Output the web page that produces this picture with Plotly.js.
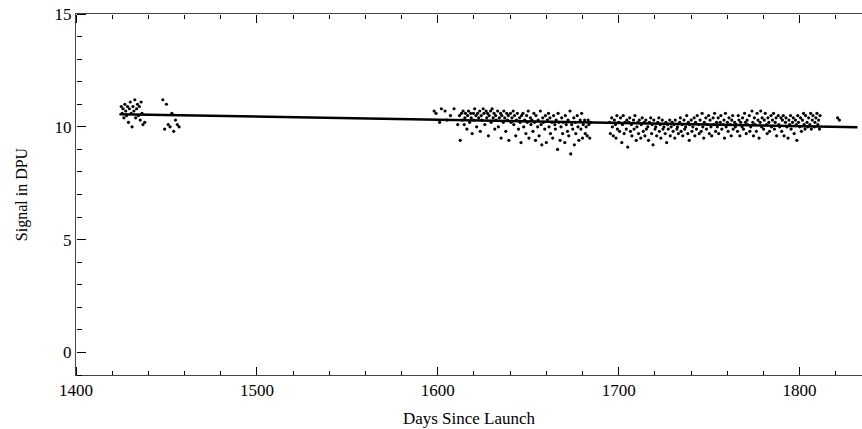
<!DOCTYPE html>
<html>
<head>
<meta charset="utf-8">
<script src="https://cdn.plot.ly/plotly-3.0.1.min.js"></script>
<style>html,body{margin:0;padding:0;background:#fff;}#chart{width:862px;height:429px;}</style>
</head>
<body>
<div id="chart"></div>
<script>
// ---- data ----
var earlyDays = [1425,1425.5,1426,1426.5,1427,1427.5,1428,1428.5,1429,1429.5,1430,1430.5,1431,1431.5,1432,1432.5,1433,1433.5,1434,1434.5,1435,1435.5,1436,1436.5,1437,1438,
  1448,1449,1450,1451,1452,1453,1454,1455,1456,1457];
var earlySignal = [10.9,10.6,10.8,10.4,11.0,10.7,10.5,10.9,10.2,10.8,11.1,10.6,10.0,10.9,10.7,11.2,10.4,10.8,11.0,10.5,10.9,10.3,11.1,10.6,10.1,10.2,
  11.2,9.9,11.0,10.1,10.0,10.6,9.8,10.3,10.1,10.0];

var midDays = [1598,1599,1601,1602,1604,1605,1607,1609,1611,
  1612,1612.4,1613.1,1613.5,1614,1614.6,1615,1615.3,1616.1,1616.5,1617,1617.6,1618.2,1618.5,1619,1619.7,1620,1620.4,1621.1,1621.5,
  1622,1622.6,1623.2,1623.5,1624,1624.3,1625.1,1625.5,1626,1626.7,1627.1,1627.5,1628,1628.4,1629.2,1629.5,1630,1630.6,1631.1,1631.5,
  1632,1632.3,1633.1,1633.5,1634,1634.7,1635,1635.4,1636.2,1636.5,1637,1637.6,1638.1,1638.5,1639,1639.3,1640.2,1640.5,1641,1641.7,
  1642,1642.4,1643.1,1643.5,1644,1644.6,1645.2,1645.5,1646,1646.3,1647.1,1647.5,1648,1648.7,1649.1,1649.5,1650,1650.4,1651.2,1651.5,
  1652,1652.6,1653.1,1653.5,1654,1654.3,1655.2,1655.5,1656,1656.7,1657.1,1657.5,1658,1658.4,1659.1,1659.5,1660,1660.6,1661.2,1661.5,
  1662,1662.3,1663.1,1663.5,1664,1664.7,1665,1665.4,1666.2,1666.5,1667,1667.6,1668.1,1668.5,1669,1669.3,1670.2,1670.5,1671,1671.7,
  1672,1672.4,1673.1,1673.5,1674,1674.6,1675.2,1675.5,1676,1676.3,1677.1,1677.5,1678,1678.7,1679.1,1679.5,1680,1680.4,1681.2,1681.5,
  1682,1682.6,1683.1,1683.5,1684,1684.4];
var midSignal = [10.7,10.6,10.2,10.8,10.7,10.3,10.5,10.8,10.1,
  10.5,9.4,10.6,10.3,10.7,10.1,10.4,10.6,9.9,10.5,10.7,10.2,10.6,10.4,9.7,10.6,10.3,10.8,10.5,10.0,
  10.6,10.4,10.7,9.8,10.5,10.3,10.8,10.6,10.1,10.7,10.4,10.6,9.6,10.5,10.7,10.2,10.8,10.4,10.6,9.9,
  10.5,10.3,10.7,10.0,10.4,10.6,9.5,10.5,10.2,10.7,10.4,9.8,10.6,10.3,10.5,9.4,10.6,10.2,10.4,10.7,
  10.1,10.5,9.6,10.3,10.6,9.9,10.4,10.2,9.3,10.5,10.6,10.0,10.3,9.7,10.5,10.2,10.7,9.5,10.4,10.1,
  10.3,9.8,10.6,10.2,9.4,10.5,10.0,10.3,9.6,10.7,10.1,9.2,10.4,10.2,9.9,10.5,9.3,10.3,10.6,10.0,
  10.4,9.7,10.2,9.5,10.5,10.1,9.9,10.3,9.0,10.6,10.2,9.4,10.0,10.4,9.7,10.2,9.3,10.5,10.1,9.8,
  10.3,9.6,10.7,8.8,10.1,9.9,10.4,9.2,10.2,9.7,10.5,10.0,9.4,10.3,9.9,10.6,9.5,10.1,10.3,9.7,
  10.0,9.6,10.3,10.1,9.5,10.2];

var lateDays = [
  1695,1695.4,1696.1,1696.5,1697,1697.6,1698.2,1698.5,1699,1699.3,1700.1,1700.5,1701,1701.7,1702.1,1702.5,1703,1703.4,1704.2,1704.5,
  1705,1705.6,1706.1,1706.5,1707,1707.3,1708.2,1708.5,1709,1709.7,1710.1,1710.5,1711,1711.4,1712.2,1712.5,1713,1713.6,1714.1,1714.5,
  1715,1715.3,1716.1,1716.5,1717,1717.7,1718.2,1718.5,1719,1719.4,1720.1,1720.5,1721,1721.6,1722.2,1722.5,1723,1723.3,1724.1,1724.5,
  1725,1725.7,1726.1,1726.5,1727,1727.4,1728.2,1728.5,1729,1729.6,1730.1,1730.5,1731,1731.3,1732.2,1732.5,1733,1733.7,1734.1,1734.5,
  1735,1735.4,1736.1,1736.5,1737,1737.6,1738.2,1738.5,1739,1739.3,1740.1,1740.5,1741,1741.7,1742.1,1742.5,1743,1743.4,1744.2,1744.5,
  1745,1745.6,1746.1,1746.5,1747,1747.3,1748.2,1748.5,1749,1749.7,1750.1,1750.5,1751,1751.4,1752.2,1752.5,1753,1753.6,1754.1,1754.5,
  1755,1755.3,1756.1,1756.5,1757,1757.7,1758.2,1758.5,1759,1759.4,1760.1,1760.5,1761,1761.6,1762.2,1762.5,1763,1763.3,1764.1,1764.5,
  1765,1765.7,1766.1,1766.5,1767,1767.4,1768.2,1768.5,1769,1769.6,1770.1,1770.5,1771,1771.3,1772.2,1772.5,1773,1773.7,1774.1,1774.5,
  1775,1775.4,1776.1,1776.5,1777,1777.6,1778.2,1778.5,1779,1779.3,1780.1,1780.5,1781,1781.7,1782.1,1782.5,1783,1783.4,1784.2,1784.5,
  1785,1785.6,1786.1,1786.5,1787,1787.3,1788.2,1788.5,1789,1789.7,1790.1,1790.5,1791,1791.4,1792.2,1792.5,1793,1793.6,1794.1,1794.5,
  1795,1795.3,1796.1,1796.5,1797,1797.7,1798.2,1798.5,1799,1799.4,1800.1,1800.5,1801,1801.6,1802.2,1802.5,1803,1803.3,1804.1,1804.5,
  1805,1805.7,1806.1,1806.5,1807,1807.4,1808.2,1808.5,1809,1809.6,1810.1,1810.5,1811,1811.3,
  1821,1822];
var lateSignal = [
  10.2,9.7,10.4,10.0,9.6,10.3,10.1,9.5,10.5,9.9,10.2,9.8,10.4,9.3,10.1,10.5,9.7,10.2,9.9,10.3,
  9.1,10.2,10.4,9.8,10.1,9.6,10.3,9.9,10.5,9.4,10.0,10.2,9.7,10.3,9.5,10.1,10.4,9.8,10.2,9.6,
  10.3,9.9,10.0,9.4,10.2,10.4,9.7,10.1,9.2,10.3,9.9,10.0,9.6,10.2,10.4,9.8,10.1,9.5,10.3,9.9,
  10.0,9.7,10.2,9.3,10.1,9.9,10.3,9.6,10.0,10.2,9.8,10.1,9.5,10.3,9.9,10.0,9.7,10.2,10.4,9.8,
  10.1,9.6,10.3,9.9,10.0,10.5,9.7,10.2,9.4,10.1,10.3,9.8,10.0,10.4,9.6,10.2,9.9,10.5,10.1,9.7,
  10.3,9.8,10.6,10.0,9.5,10.2,10.4,9.9,10.1,10.5,9.7,10.3,10.0,9.6,10.4,10.1,10.6,9.8,10.2,10.0,
  10.4,9.7,10.2,10.5,9.9,10.1,10.3,9.5,10.6,10.0,10.2,9.8,10.4,10.1,9.6,10.3,10.5,9.9,10.2,10.0,
  10.1,9.8,10.5,10.3,9.6,10.2,10.0,10.4,9.9,10.6,10.2,9.7,10.3,10.1,10.5,9.8,10.0,10.7,10.2,9.6,
  10.4,10.1,9.8,10.6,10.3,9.5,10.2,10.7,10.0,10.4,9.9,10.3,10.6,10.1,9.7,10.4,10.2,9.8,10.5,10.0,
  10.3,10.6,9.9,10.2,10.4,9.6,10.5,10.1,10.0,10.4,9.8,10.3,10.5,9.6,10.2,10.4,10.0,9.5,10.3,10.1,
  10.5,9.9,10.2,10.4,9.7,10.3,10.1,9.4,10.5,10.2,10.0,10.4,9.8,10.3,10.6,10.1,9.9,10.5,10.2,10.0,
  10.4,10.1,10.6,9.9,10.3,10.5,10.0,10.2,10.4,10.6,10.1,10.3,9.9,10.5,
  10.4,10.3];

var fitDays = [1424, 1832];
var fitSignal = [10.56, 9.98];

var xTitle = "Days Since Launch";
var yTitle = "Signal in DPU";

// ---- chart ----
var serif = "Liberation Serif";
var xRange = [1400, 1834.5];
var yRange = [-1, 15];
var dotStyle = {color: "#000", size: 3.2};

var earlyPts = {
  type: "scatter", mode: "markers",
  x: earlyDays, y: earlySignal,
  marker: dotStyle
};
var laterPts = {
  type: "scatter", mode: "markers",
  x: midDays.concat(lateDays), y: midSignal.concat(lateSignal),
  xaxis: "x3", yaxis: "y",
  marker: dotStyle
};
var fit = {
  type: "scatter", mode: "lines",
  x: fitDays, y: fitSignal,
  xaxis: "x2", yaxis: "y2",
  line: {color: "#000", width: 2.5}
};

function tickAxis(extra) {
  var a = {
    autorange: false, showticklabels: false, showline: false,
    showgrid: false, zeroline: false, tickwidth: 1, tickcolor: "#000", ticks: "outside"
  };
  for (var k in extra) a[k] = extra[k];
  return a;
}

var layout = {
  width: 862, height: 429,
  margin: {l: 76, r: 0, t: 14, b: 54},
  showlegend: false,
  font: {family: serif, color: "#000"},
  xaxis: {
    range: xRange, autorange: false,
    tickmode: "linear", tick0: 1400, dtick: 100, ticks: "",
    showline: true, linecolor: "#444", linewidth: 1, mirror: true,
    showgrid: false, zeroline: false,
    tickfont: {family: serif, size: 17, color: "#000"},
    title: {text: xTitle, font: {family: serif, size: 17, color: "#000"}, standoff: 12}
  },
  yaxis: {
    range: yRange, autorange: false,
    tickmode: "linear", tick0: 0, dtick: 5, ticks: "",
    showline: true, linecolor: "#444", linewidth: 1,
    showgrid: false, zeroline: false,
    tickfont: {family: serif, size: 17, color: "#000"},
    title: {text: yTitle, font: {family: serif, size: 16, color: "#000"}, standoff: 22}
  },
  // inward-pointing ticks: free axes placed on the frame with their ticks pointing into the plot
  xaxis2: tickAxis({overlaying: "x", anchor: "free", position: 0, side: "top", range: xRange,
    tickmode: "linear", tick0: 1400, dtick: 100, ticklen: 8,
    minor: {dtick: 20, ticks: "outside", ticklen: 4, tickcolor: "#000"}}),
  xaxis3: tickAxis({overlaying: "x", anchor: "free", position: 1, side: "bottom", range: xRange,
    tickmode: "linear", tick0: 1400, dtick: 100, ticklen: 8,
    minor: {dtick: 20, ticks: "outside", ticklen: 4, tickcolor: "#000"}}),
  yaxis2: tickAxis({overlaying: "y", anchor: "free", position: 0, side: "right", range: yRange,
    tickmode: "linear", tick0: 0, dtick: 5, ticklen: 9,
    minor: {dtick: 1, ticks: "outside", ticklen: 5, tickcolor: "#000"}})
};

Plotly.newPlot("chart", [earlyPts, laterPts, fit], layout, {displayModeBar: false});
</script>
</body>
</html>
